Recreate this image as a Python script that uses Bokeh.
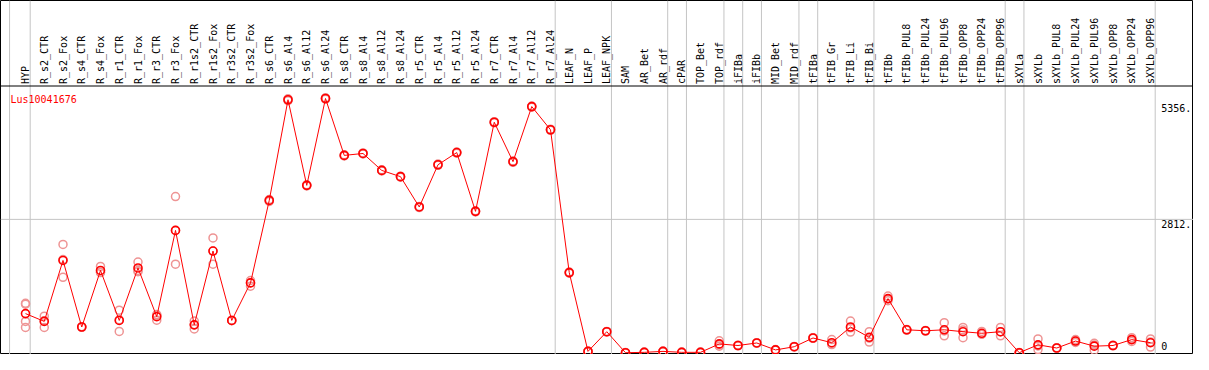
import math
from bokeh.plotting import figure
from bokeh.models import Range1d, Span, ColumnDataSource
from bokeh.core.properties import value
from bokeh.embed import file_html
from bokeh.resources import INLINE

# ---------------- data ----------------
title_text = "Lus10041676"

categories = [
    "HYP", "R_s2_CTR", "R_s2_Fox", "R_s4_CTR", "R_s4_Fox", "R_r1_CTR", "R_r1_Fox",
    "R_r3_CTR", "R_r3_Fox", "R_r1s2_CTR", "R_r1s2_Fox", "R_r3s2_CTR", "R_r3s2_Fox",
    "R_s6_CTR", "R_s6_Al4", "R_s6_Al12", "R_s6_Al24", "R_s8_CTR", "R_s8_Al4",
    "R_s8_Al12", "R_s8_Al24", "R_r5_CTR", "R_r5_Al4", "R_r5_Al12", "R_r5_Al24",
    "R_r7_CTR", "R_r7_Al4", "R_r7_Al12", "R_r7_Al24", "LEAF_N", "LEAF_P", "LEAF_NPK",
    "SAM", "AR_Bet", "AR_rdf", "cPAR", "TOP_Bet", "TOP_rdf", "iFIBa", "iFIBb",
    "MID_Bet", "MID_rdf", "tFIBa", "tFIB_Gr", "tFIB_Li", "tFIB_Bi", "tFIBb",
    "tFIBb_PUL8", "tFIBb_PUL24", "tFIBb_PUL96", "tFIBb_OPP8", "tFIBb_OPP24",
    "tFIBb_OPP96", "sXYLa", "sXYLb", "sXYLb_PUL8", "sXYLb_PUL24", "sXYLb_PUL96",
    "sXYLb_OPP8", "sXYLb_OPP24", "sXYLb_OPP96",
]

mean_values = [
    829, 665, 1948, 547, 1737, 685, 1790, 764, 2580, 592, 2146, 685, 1475,
    3212, 5330, 3528, 5356, 4159, 4199, 3843, 3711, 3073, 3962, 4218, 2981,
    4856, 4027, 5186, 4698, 1692, 34, 448, 6, 14, 34, 14, 14, 191, 158, 211,
    65, 132, 316, 217, 547, 330, 1145, 488, 468, 488, 448, 415, 448, 6, 172,
    105, 251, 144, 158, 282, 217,
]

replicate_values = [
    [1046, 1026, 665, 539], [776, 681, 539], [2284, 1968, 1593], [540, 550, 552],
    [1822, 1698, 1692], [902, 699, 454], [1915, 1737, 1711], [809, 790, 691],
    [3291, 2578, 1869], [671, 592, 507], [2422, 2146, 1869], [690, 685, 680],
    [1526, 1481, 1407], [3230, 3212, 3190], [5350, 5330, 5310], [3540, 3528, 3516],
    [5370, 5356, 5342], [4170, 4159, 4148], [4210, 4199, 4188], [3855, 3843, 3831],
    [3722, 3711, 3700], [3085, 3073, 3061], [3975, 3962, 3949], [4230, 4218, 4206],
    [2993, 2981, 2969], [4868, 4856, 4844], [4040, 4027, 4014], [5198, 5186, 5174],
    [4710, 4698, 4686], [1705, 1692, 1679], [40, 34, 28], [455, 448, 441],
    [10, 6, 2], [20, 14, 8], [40, 34, 28], [20, 14, 8], [20, 14, 8],
    [257, 172, 144], [165, 158, 151], [218, 211, 204], [72, 65, 58], [139, 132, 125],
    [323, 316, 309], [282, 191, 178], [671, 530, 440], [448, 311, 231],
    [1198, 1137, 1100], [495, 488, 481], [475, 468, 461], [638, 465, 361],
    [539, 483, 322], [454, 396, 395], [539, 444, 361], [10, 6, 2], [296, 147, 73],
    [112, 105, 98], [282, 251, 221], [203, 170, 59], [165, 158, 151],
    [322, 282, 242], [296, 231, 124],
]

# number of categories in each tissue group (separated by grey lines)
group_sizes = [1, 28, 3, 3, 1, 2, 1, 1, 2, 1, 3, 7, 1, 7]

y_tick_values = [0, 2812, 5356]
y_tick_labels = ["0", "2812.", "5356."]

# ---------------- layout ----------------
W, H = 1193, 354
X0_PX, DX_PX = 25.0, 18.75         # pixel of first category, spacing
Y_ZERO_PX, Y_MAX_PX = 352.5, 98.0  # pixel rows of 0 and of the max value
K = max(y_tick_values) / (Y_ZERO_PX - Y_MAX_PX)  # value per pixel


def fx(px):
    return (px - X0_PX) / DX_PX


def fy(py):
    return (Y_ZERO_PX - py) * K


FONT = value("DejaVu Sans Mono")

p = figure(width=W, height=H, output_backend="svg", toolbar_location=None,
           x_range=Range1d(fx(0), fx(W)), y_range=Range1d(fy(H), fy(0)),
           x_axis_location=None, y_axis_location=None, title=None,
           min_border=0, background_fill_color="white", border_fill_color="white")
p.grid.visible = False
p.outline_line_color = "black"
p.outline_line_width = 1

GREY = "#c4c4c4"

# vertical group separators
sep_positions = [-0.85]
acc = -1
for g in group_sizes:
    acc += g
    sep_positions.append(acc + 0.25)
for s in sep_positions:
    p.add_layout(Span(location=s, dimension="height", line_color=GREY,
                      line_width=1, level="underlay"))

# horizontal grid line(s) at intermediate ticks
for t in y_tick_values[1:-1]:
    p.add_layout(Span(location=t, dimension="width", line_color=GREY,
                      line_width=1, level="underlay"))

# header separator
p.add_layout(Span(location=fy(85.5), dimension="width", line_color="black",
                  line_width=1))

xs = list(range(len(categories)))

# category labels (rotated)
lab_src = ColumnDataSource(dict(x=xs, y=[fy(83.5)] * len(xs), t=categories))
p.text(x="x", y="y", text="t", source=lab_src, angle=math.pi / 2,
       text_font=FONT, text_font_size="10px", text_align="left",
       text_baseline="middle", text_color="black")

# replicates
rx, ry = [], []
for i, reps in enumerate(replicate_values):
    for v in reps:
        rx.append(i)
        ry.append(v)
p.scatter(rx, ry, marker="circle", size=8, fill_color=None,
          line_color="#ee9494", line_width=1.5)

# mean line and markers
p.line(xs, mean_values, line_color="red", line_width=1)
p.scatter(xs, mean_values, marker="circle", size=8, fill_color=None,
          line_color="red", line_width=1.6)

# title
p.text(x=[fx(10)], y=[fy(93)], text=[title_text], text_font=FONT,
       text_font_size="10px", text_color="red", text_align="left",
       text_baseline="top")

# y tick labels on the right
last_sep_px = X0_PX + sep_positions[-1] * DX_PX
for v, lab in zip(y_tick_values, y_tick_labels):
    tick_px = Y_ZERO_PX - v / K
    if v == min(y_tick_values):
        yy, base = fy(H - 5), "bottom"
    elif v == max(y_tick_values):
        yy, base = fy(tick_px + 5), "top"
    else:
        yy, base = fy(tick_px + 1), "top"
    p.text(x=[fx(last_sep_px + 6)], y=[yy], text=[lab], text_font=FONT,
           text_font_size="10px", text_color="black", text_align="left",
           text_baseline=base)

open("out.html", "w").write(file_html(p, INLINE))
